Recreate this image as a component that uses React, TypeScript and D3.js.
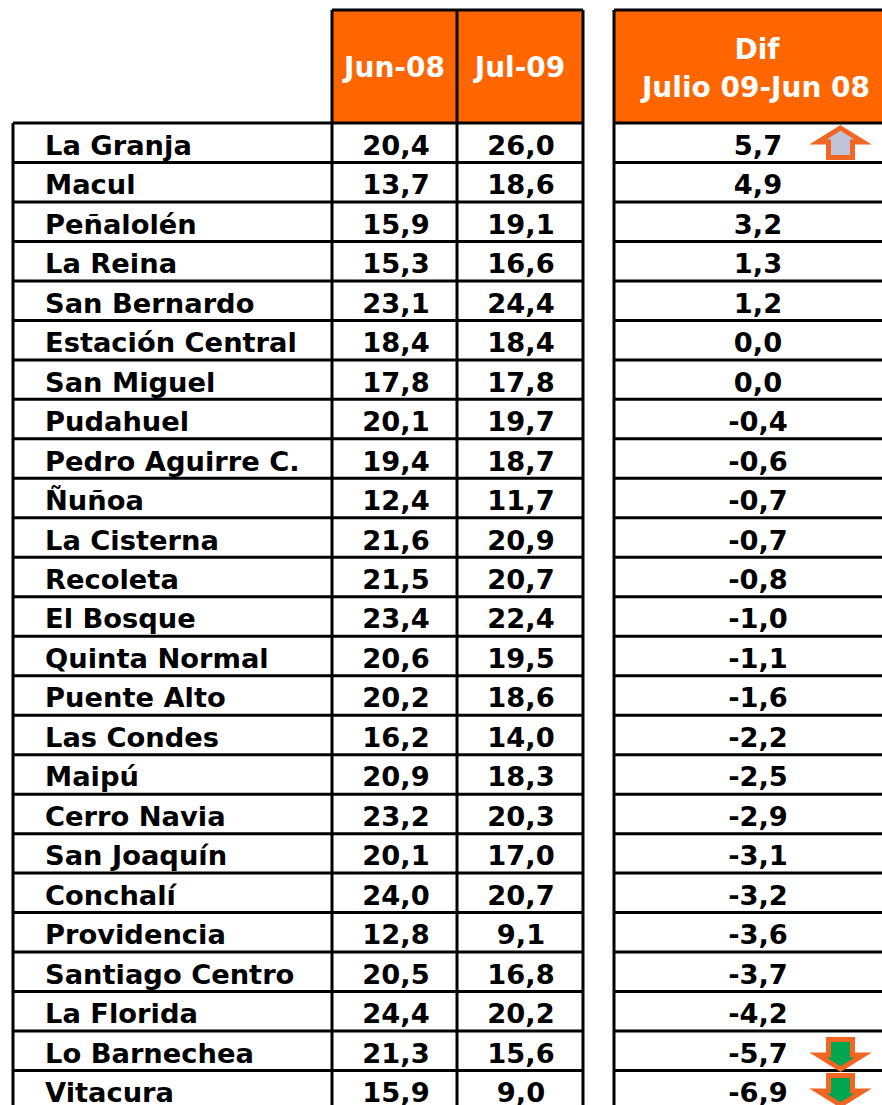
import React from 'react';
import * as d3 from 'd3';

const comunas = ['La Granja', 'Macul', 'Peñalolén', 'La Reina', 'San Bernardo', 'Estación Central', 'San Miguel', 'Pudahuel', 'Pedro Aguirre C.', 'Ñuñoa', 'La Cisterna', 'Recoleta', 'El Bosque', 'Quinta Normal', 'Puente Alto', 'Las Condes', 'Maipú', 'Cerro Navia', 'San Joaquín', 'Conchalí', 'Providencia', 'Santiago Centro', 'La Florida', 'Lo Barnechea', 'Vitacura'];
const jun08 = [20.4, 13.7, 15.9, 15.3, 23.1, 18.4, 17.8, 20.1, 19.4, 12.4, 21.6, 21.5, 23.4, 20.6, 20.2, 16.2, 20.9, 23.2, 20.1, 24.0, 12.8, 20.5, 24.4, 21.3, 15.9];
const jul09 = [26.0, 18.6, 19.1, 16.6, 24.4, 18.4, 17.8, 19.7, 18.7, 11.7, 20.9, 20.7, 22.4, 19.5, 18.6, 14.0, 18.3, 20.3, 17.0, 20.7, 9.1, 16.8, 20.2, 15.6, 9.0];
const dif = [5.7, 4.9, 3.2, 1.3, 1.2, 0.0, 0.0, -0.4, -0.6, -0.7, -0.7, -0.8, -1.0, -1.1, -1.6, -2.2, -2.5, -2.9, -3.1, -3.2, -3.6, -3.7, -4.2, -5.7, -6.9];
const upArrows = ['La Granja'];
const downArrows = ['Lo Barnechea', 'Vitacura'];

const width = 882;
const height = 1105;
const orange = '#FF6600';
const arrowStroke = '#F26522';
const font = '"DejaVu Sans", Verdana, sans-serif';

const y = d3.scaleBand<string>().domain(comunas).range([123, 123 + 39.48 * comunas.length]);
const rowLines = [...comunas.map((c) => y(c) as number), y.range()[1]];
const fmt = (v: number) => d3.format('.1f')(v).replace('.', ',').replace('−', '-');

const arrowPath = (cx: number, tip: number, dir: number) => {
  // dir 1 = apunta hacia arriba, -1 = hacia abajo
  const wing = tip + dir * 14;
  const base = tip + dir * 29.5;
  const p = d3.path();
  p.moveTo(cx, tip);
  p.lineTo(cx + 22.5, wing);
  p.lineTo(cx + 12, wing);
  p.lineTo(cx + 12, base);
  p.lineTo(cx - 12, base);
  p.lineTo(cx - 12, wing);
  p.lineTo(cx - 22.5, wing);
  p.closePath();
  return p.toString();
};

const App = () => {
  return (
    <svg
      width={width}
      height={height}
      style={{ position: 'absolute', left: 0, top: 0, background: '#fff' }}
    >
      {/* cabecera */}
      <rect x={332} y={10} width={251} height={113} fill={orange} />
      <rect x={614} y={10} width={268} height={113} fill={orange} />
      <g fontFamily={font} fontWeight={700} fontSize={28} fill="#fff" textAnchor="middle">
        <text x={394.5} y={77}>Jun-08</text>
        <text x={520} y={77}>Jul-09</text>
        <text x={757} y={59}>Dif</text>
        <text x={756} y={97}>Julio 09-Jun 08</text>
      </g>

      {/* lineas */}
      <g stroke="#000" strokeWidth={3} fill="none">
        <line x1={332} x2={583} y1={10} y2={10} />
        <line x1={614} x2={882} y1={10} y2={10} />
        {rowLines.map((ly, i) => (
          <React.Fragment key={i}>
            <line x1={13} x2={583} y1={ly} y2={ly} />
            <line x1={614} x2={882} y1={ly} y2={ly} />
          </React.Fragment>
        ))}
        <line x1={13} x2={13} y1={123} y2={height} />
        <line x1={332} x2={332} y1={10} y2={height} />
        <line x1={457} x2={457} y1={10} y2={height} />
        <line x1={583} x2={583} y1={10} y2={height} />
        <line x1={614} x2={614} y1={10} y2={height} />
      </g>

      {/* filas */}
      {comunas.map((c, i) => {
        const base = (y(c) as number) + 31.7;
        return (
          <g key={c} fontFamily={font} fontWeight={700} fontSize={27.3} fill="#000">
            <text x={45} y={base}>{c}</text>
            <text x={396} y={base} textAnchor="middle">{fmt(jun08[i])}</text>
            <text x={521} y={base} textAnchor="middle">{fmt(jul09[i])}</text>
            <text x={758} y={base} textAnchor="middle">{fmt(dif[i])}</text>
          </g>
        );
      })}

      {/* flechas */}
      {upArrows.map((c) => (
        <path key={c} d={arrowPath(840.5, (y(c) as number) + 5, 1)} fill="#C0C4D8" stroke={arrowStroke} strokeWidth={5} />
      ))}
      {downArrows.map((c, i) => (
        <path key={c} d={arrowPath(840.5, (y(c) as number) + (i === 0 ? 38 : 34.5), -1)} fill="#00A650" stroke={arrowStroke} strokeWidth={5} />
      ))}
    </svg>
  );
};

export default App;
